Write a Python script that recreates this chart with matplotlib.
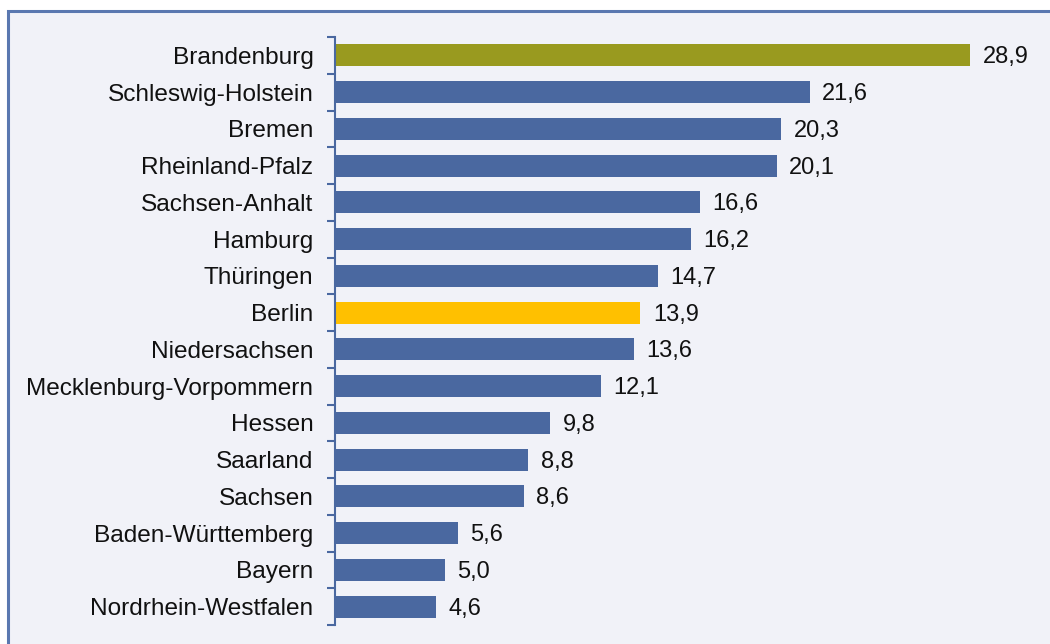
import matplotlib
matplotlib.use("Agg")
import matplotlib.pyplot as plt
from matplotlib.patches import Rectangle

categories = ["Brandenburg", "Schleswig-Holstein", "Bremen", "Rheinland-Pfalz",
              "Sachsen-Anhalt", "Hamburg", "Thüringen", "Berlin", "Niedersachsen",
              "Mecklenburg-Vorpommern", "Hessen", "Saarland", "Sachsen",
              "Baden-Württemberg", "Bayern", "Nordrhein-Westfalen"]
values = [28.9, 21.6, 20.3, 20.1, 16.6, 16.2, 14.7, 13.9, 13.6, 12.1, 9.8, 8.8,
          8.6, 5.6, 5.0, 4.6]
value_labels = ["28,9", "21,6", "20,3", "20,1", "16,6", "16,2", "14,7", "13,9",
                "13,6", "12,1", "9,8", "8,8", "8,6", "5,6", "5,0", "4,6"]
highlight = {"Brandenburg": "#999A1F", "Berlin": "#FFC000"}
base_color = "#4A68A0"

plt.rcParams['font.family'] = ['Liberation Sans', 'DejaVu Sans']

W, H = 1050, 644
fig = plt.figure(figsize=(W / 100, H / 100), dpi=100)
fig.patch.set_facecolor("white")

# outer panel (background axes)
bg = fig.add_axes([0, 0, 1, 1], zorder=0)
bg.set_xlim(0, W)
bg.set_ylim(H, 0)
bg.axis("off")
bg.add_patch(Rectangle((8, 11), W + 20, H + 20, facecolor="#F1F2F8",
                       edgecolor="#5A78B0", linewidth=2.2))

left, right = 335 / W, 1040 / W
top, bottom = 1 - 37 / H, 1 - 625 / H
ax = fig.add_axes([left, bottom, right - left, top - bottom], zorder=1)
ax.set_facecolor("none")

n = len(categories)
ypos = list(range(n))
colors = [highlight.get(c, base_color) for c in categories]
ax.barh(ypos, values, height=0.6, color=colors, zorder=2)

for y, v, lab in zip(ypos, values, value_labels):
    ax.annotate(lab, (v, y), xytext=(9, -1.5), textcoords="offset points",
                va="center", ha="left", fontsize=17, color="#111111")

ax.set_xlim(0, 705 / ((970 - 335) / 28.9))
ax.set_ylim(n - 0.5, -0.5)
ax.set_yticks(ypos)
ax.set_yticklabels(categories, fontsize=17.6, color="#111111")
ax.tick_params(axis="y", which="major", length=0, pad=15.5)
ax.set_yticks([i - 0.5 for i in range(n + 1)], minor=True)
ax.tick_params(axis="y", which="minor", length=6, width=1.5, color="#4A68A0", direction="out")
ax.set_xticks([])
for s in ["top", "right", "bottom"]:
    ax.spines[s].set_visible(False)
ax.spines["left"].set_color("#4A68A0")
ax.spines["left"].set_linewidth(1.5)

fig.savefig("out.png", dpi=100, facecolor=fig.get_facecolor())
